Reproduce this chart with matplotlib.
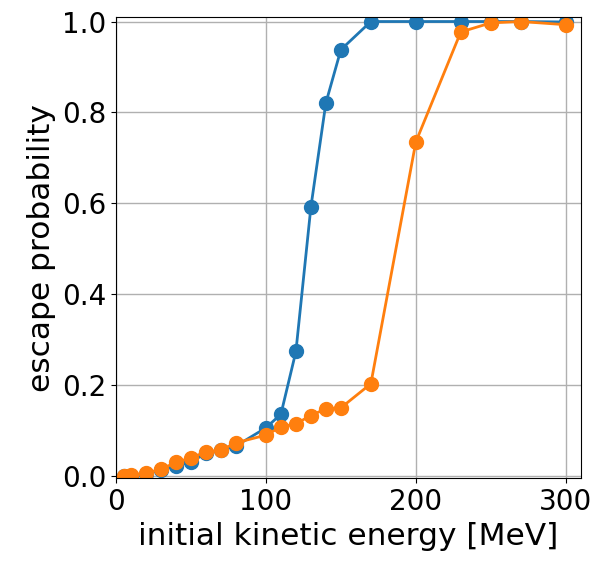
import numpy as np
import matplotlib
matplotlib.use("Agg")
import matplotlib.pyplot as plt

# energies [MeV] and escape probabilities
energy_a = [5, 10, 20, 30, 40, 50, 60, 70, 80, 100, 110, 120, 130, 140, 150,
            170, 200, 230, 250, 270, 300]
prob_a = [0.0, 0.001, 0.005, 0.013, 0.022, 0.031, 0.05, 0.057, 0.066, 0.106,
          0.136, 0.274, 0.592, 0.821, 0.938, 1.0, 1.0, 1.0, 1.0, 1.0, 0.999]

energy_b = [5, 10, 20, 30, 40, 50, 60, 70, 80, 100, 110, 120, 130, 140, 150,
            170, 200, 230, 250, 270, 300]
prob_b = [0.0, 0.003, 0.006, 0.015, 0.03, 0.04, 0.053, 0.057, 0.073, 0.09,
          0.108, 0.115, 0.133, 0.148, 0.15, 0.203, 0.735, 0.977, 0.997, 1.0,
          0.993]

plt.rcParams["font.size"] = 20

fig = plt.figure(figsize=(5.95, 5.66), dpi=100)
ax = fig.add_axes([0.195, 0.155, 0.781, 0.815])

ax.plot(energy_a, prob_a, "o-", color="#1f77b4", lw=2, ms=10)
ax.plot(energy_b, prob_b, "o-", color="#ff7f0e", lw=2, ms=10)

ax.set_xlim(0, 310)
ax.set_ylim(-0.005, 1.01)
ax.set_xticks([0, 100, 200, 300])
ax.set_yticks(np.arange(0, 1.01, 0.2))
ax.grid(True, color="#b0b0b0", lw=1)
ax.set_xlabel("initial kinetic energy [MeV]", fontsize=22.5)
ax.set_ylabel("escape probability", fontsize=22.5)

fig.savefig("out.png", dpi=100)
